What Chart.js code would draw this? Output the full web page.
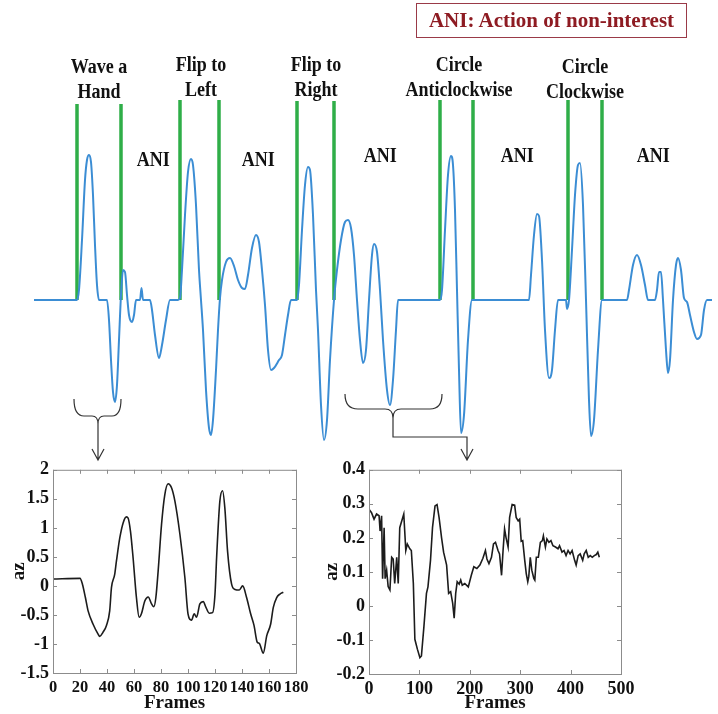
<!DOCTYPE html>
<html>
<head>
<meta charset="utf-8">
<script src="https://cdn.jsdelivr.net/npm/chart.js@4.4.0/dist/chart.umd.min.js"></script>
<style>
  body { margin: 0; background: #fff; }
  #wrap { position: relative; width: 718px; height: 714px; overflow: hidden; font-family: "Liberation Serif", "Times New Roman", serif; }
  canvas { position: absolute; }
  .lbl { position: absolute; font-weight: bold; font-size: 20px; line-height: 25px; text-align: center; color: #111; transform: scaleX(0.9); white-space: nowrap; }
  .ani { position: absolute; font-weight: bold; font-size: 20px; line-height: 20px; color: #111; transform: scaleX(0.9); }
  #legendBox { position: absolute; left: 416px; top: 3px; width: 269px; height: 33px; border: 1.5px solid #9a3a48; color: #8e1b22; font-weight: bold; font-size: 21px; display: flex; align-items: center; justify-content: center; }
  svg { position: absolute; left: 0; top: 0; }
</style>
</head>
<body>
<div id="wrap">
  <canvas id="topChart" width="718" height="460" style="left:0;top:0"></canvas>
  <canvas id="leftChart" width="320" height="259" style="left:0;top:455px"></canvas>
  <canvas id="rightChart" width="320" height="259" style="left:320px;top:455px"></canvas>

  <div id="legendBox">ANI: Action of non-interest</div>

  <div class="lbl" style="left:49px;top:54px;width:100px">Wave a<br>Hand</div>
  <div class="lbl" style="left:151px;top:52px;width:100px">Flip to<br>Left</div>
  <div class="lbl" style="left:266px;top:52px;width:100px">Flip to<br>Right</div>
  <div class="lbl" style="left:399px;top:52px;width:120px">Circle<br>Anticlockwise</div>
  <div class="lbl" style="left:535px;top:54px;width:100px">Circle<br>Clockwise</div>

  <div class="ani" style="left:135px;top:149px">ANI</div>
  <div class="ani" style="left:240px;top:149px">ANI</div>
  <div class="ani" style="left:362px;top:145px">ANI</div>
  <div class="ani" style="left:499px;top:145px">ANI</div>
  <div class="ani" style="left:635px;top:145px">ANI</div>

  <svg width="718" height="714">
    <g fill="none" stroke="#333" stroke-width="1.2">
      <path d="M74,399 Q74,416 84,416 L92,416 Q98,416 98,424 Q98,416 104,416 L112,416 Q121,416 121,399"/>
      <path d="M98,424 L98,460 M92,449 L98,460 L104,449"/>
      <path d="M345,394 Q345,409 358,409 L385,409 Q393,409 393,418 Q393,409 401,409 L430,409 Q442,409 442,394"/>
      <path d="M393,418 L393,437 L467,437 L467,460 M461,449 L467,460 L473,449"/>
    </g>
  </svg>
</div>

<script>
// top signal: sample position and amplitude
const topX = [34, 77, 79, 82, 85, 87, 89, 91, 93, 95, 97, 99, 107, 109, 111, 113, 115, 117, 119, 121,
  123, 125, 127, 129, 132, 134, 136, 140, 141.5, 143, 150, 152, 155, 159, 162, 166, 170, 178, 180, 182,
  185, 188, 191, 193, 196, 199, 201, 203, 206, 209, 211, 213, 216, 218, 220, 222, 226, 230, 234, 238,
  242, 245, 248, 252, 256, 259, 262, 265, 268, 271, 274, 279, 282, 285, 288, 291, 297, 299, 302, 305,
  308, 310, 313, 316, 318, 321, 324, 327, 330, 334, 337, 341, 345, 348, 351, 354, 357, 360, 363, 366,
  369, 372, 374, 377, 380, 383, 387, 390, 393, 396, 398, 440, 442, 445, 448, 451, 453, 455, 457, 459,
  461, 464, 468, 472, 529, 531, 534, 537, 539, 542, 545, 549, 552, 555, 558, 566, 567, 569, 572, 575,
  578, 580, 583, 586, 589, 591, 594, 598, 602, 627, 629, 633, 637, 641, 645, 648, 655, 657, 659, 661,
  663, 666, 668, 670, 673, 676, 678, 681, 684, 687, 690, 694, 697, 701, 704, 707, 712];
const topAmp = [0, 0, 0.10, 0.60, 1.20, 1.40, 1.45, 1.38, 1.05, 0.55, 0.15, 0, 0, -0.20, -0.60, -0.92, -1.02, -0.85, -0.40, 0.05,
  0.30, 0.28, 0.05, -0.15, -0.22, -0.15, 0, 0, 0.12, 0, 0, -0.10, -0.35, -0.58, -0.45, -0.20, 0, 0, 0.02, 0.30,
  0.85, 1.28, 1.41, 1.35, 0.95, 0.30, 0, -0.30, -0.90, -1.28, -1.35, -1.20, -0.70, -0.30, 0.02, 0.20, 0.38, 0.42, 0.34, 0.20,
  0.12, 0.11, 0.25, 0.52, 0.65, 0.58, 0.30, -0.05, -0.50, -0.70, -0.68, -0.60, -0.55, -0.35, -0.15, 0, 0, 0.15, 0.70, 1.15,
  1.33, 1.30, 0.85, 0.10, -0.30, -1.05, -1.40, -1.20, -0.60, 0, 0.30, 0.60, 0.78, 0.80, 0.72, 0.45, 0, -0.40, -0.63, -0.50,
  0, 0.45, 0.56, 0.48, 0.10, -0.40, -0.90, -1.05, -0.80, -0.30, 0, 0, 0.10, 0.70, 1.25, 1.44, 1.35, 0.90, 0.10, -0.70,
  -1.33, -1.15, -0.40, 0, 0, 0.25, 0.65, 0.86, 0.84, 0.40, -0.30, -0.78, -0.70, -0.30, 0, 0, -0.09, 0, 0.50, 1.05,
  1.35, 1.37, 0.95, 0, -1.00, -1.36, -1.20, -0.50, 0, 0, 0.10, 0.35, 0.45, 0.35, 0.15, 0, 0, 0.10, 0.28, 0.28,
  0, -0.50, -0.73, -0.60, 0, 0.35, 0.42, 0.30, 0.02, -0.02, -0.15, -0.32, -0.39, -0.35, -0.10, 0, 0];

// segment boundaries (green markers)
const markerX = [77, 121, 180, 219, 297, 334, 440, 473, 568, 602];
const markerTop = [1.96, 1.96, 2.0, 2.0, 1.99, 1.99, 2.0, 2.0, 2.0, 2.0];

// left inset: "Wave a Hand" segment
const waveFrames = [0, 20, 21.8, 24, 26, 29.7, 33.4, 34.6, 37, 39.6, 42, 43.3, 45.7, 47, 49.5, 52, 54.4, 55.6, 57.4, 59.3,
  61.8, 63.8, 65.5, 68, 70.5, 73, 74.7, 76.2, 77.9, 80.4, 82.8, 85.3, 87.8, 90.3, 94, 97.7, 100, 102.6, 104.6, 106.3,
  108.8, 111.3, 113.3, 115.7, 118.2, 120, 121.2, 123.6, 125.6, 127.3, 129.3, 132.3, 134.8, 138, 140.5, 143.4, 146.4, 148.9, 151.3, 152.8,
  155.8, 158.3, 161.2, 163.2, 165.7, 168.1, 170.6];
const waveAz = [0.12, 0.13, 0.03, -0.2, -0.43, -0.66, -0.83, -0.87, -0.8, -0.68, -0.43, -0.03, 0.2, 0.43, 0.83, 1.09, 1.19, 1.17, 0.94, 0.49,
  -0.2, -0.54, -0.48, -0.26, -0.19, -0.31, -0.36, -0.2, 0.26, 1.06, 1.57, 1.76, 1.69, 1.46, 0.89, 0.14, -0.48, -0.59, -0.48, -0.54,
  -0.31, -0.27, -0.37, -0.47, -0.46, -0.14, 0.49, 1.46, 1.64, 1.34, 0.6, 0.03, -0.06, -0.07, 0.0, -0.2, -0.48, -0.68, -0.97, -0.99,
  -1.16, -0.86, -0.66, -0.37, -0.2, -0.14, -0.11];

// right inset: ANI segment
const aniFrames = [0, 5, 10, 15, 20, 22, 25, 27, 30, 32, 35, 38, 41.5, 45, 48, 51, 55, 58, 61, 67,
  69, 73, 76, 81, 84, 88, 91, 96, 101, 104, 109, 114, 117, 122, 126, 131, 135, 139, 144, 148,
  154, 158, 162, 166, 169, 172, 175, 179, 182, 185, 190, 197, 203, 208, 214, 220, 226, 231, 234, 238,
  243, 247, 251, 256, 259, 263, 266, 269, 272, 276, 279, 284, 289, 292, 296, 299, 302, 305, 309, 312,
  315, 317, 320, 323, 327, 329, 332, 336, 340, 344, 346, 350, 353, 357, 361, 365, 370, 375, 378, 383,
  387, 391, 395, 399, 403, 408, 411, 415, 419, 424, 427, 431, 435, 439, 443, 447, 451, 454, 457];
const aniAz = [0.284, 0.274, 0.255, 0.27, 0.265, 0.22, 0.265, 0.08, 0.23, 0.08, 0.105, 0.057, 0.047, 0.143, 0.138, 0.066, 0.143, 0.066, 0.23, 0.26,
  0.27, 0.163, 0.182, 0.168, 0.163, 0.066, -0.098, -0.127, -0.152, -0.147, -0.06, 0.037, 0.056, 0.134, 0.23, 0.294, 0.298, 0.26, 0.2, 0.158,
  0.12, 0.037, 0.042, 0.008, -0.036, 0.037, 0.071, 0.064, 0.076, 0.061, 0.066, 0.056, 0.09, 0.115, 0.11, 0.12, 0.14, 0.163, 0.138, 0.124,
  0.143, 0.182, 0.187, 0.163, 0.153, 0.09, 0.163, 0.226, 0.2, 0.173, 0.26, 0.298, 0.296, 0.26, 0.25, 0.255, 0.19, 0.192, 0.134, 0.095,
  0.071, 0.086, 0.143, 0.105, 0.081, 0.076, 0.143, 0.143, 0.187, 0.192, 0.206, 0.173, 0.197, 0.187, 0.192, 0.177, 0.173, 0.168, 0.177, 0.158,
  0.163, 0.148, 0.163, 0.153, 0.163, 0.134, 0.12, 0.148, 0.153, 0.134, 0.153, 0.163, 0.143, 0.148, 0.143, 0.148, 0.151, 0.158, 0.143];

const serif = "'Liberation Serif', 'Times New Roman', serif";

// ---- top signal ----
const markerData = [];
markerX.forEach((x, i) => {
  markerData.push({ x, y: 0 }, { x, y: markerTop[i] }, { x, y: null });
});

new Chart(document.getElementById("topChart"), {
  type: "line",
  data: {
    datasets: [
      {
        data: topX.map((x, i) => ({ x, y: topAmp[i] })),
        borderColor: "#3b8dd4",
        borderWidth: 2,
        pointRadius: 0,
        cubicInterpolationMode: "monotone",
      },
      {
        data: markerData,
        borderColor: "#2fae48",
        borderWidth: 3.5,
        pointRadius: 0,
        spanGaps: false,
      },
    ],
  },
  options: {
    responsive: false,
    animation: false,
    layout: { padding: 0 },
    plugins: { legend: { display: false }, tooltip: { enabled: false } },
    scales: {
      x: { type: "linear", display: false, min: 0, max: 718 },
      y: { display: false, min: -1.6, max: 3.0 },
    },
  },
});

// ---- insets ----
const boxPlugin = {
  id: "boxPlugin",
  afterDraw(chart) {
    const { ctx, chartArea: a, scales } = chart;
    ctx.save();
    ctx.strokeStyle = "#8c8c8c";
    ctx.lineWidth = 1;
    ctx.strokeRect(a.left + 0.5, a.top + 0.5, a.right - a.left, a.bottom - a.top);
    ctx.beginPath();
    scales.x.ticks.forEach((t) => {
      const px = Math.round(scales.x.getPixelForValue(t.value)) + 0.5;
      ctx.moveTo(px, a.bottom); ctx.lineTo(px, a.bottom - 4);
      ctx.moveTo(px, a.top); ctx.lineTo(px, a.top + 4);
    });
    scales.y.ticks.forEach((t) => {
      const py = Math.round(scales.y.getPixelForValue(t.value)) + 0.5;
      ctx.moveTo(a.left, py); ctx.lineTo(a.left + 4, py);
      ctx.moveTo(a.right, py); ctx.lineTo(a.right - 4, py);
    });
    ctx.stroke();
    ctx.restore();
  },
};

function renderInset(id, frames, values, opts) {
  return new Chart(document.getElementById(id), {
    type: "line",
    data: {
      datasets: [
        {
          data: frames.map((f, i) => ({ x: f, y: values[i] })),
          borderColor: "#1c1c1c",
          borderWidth: 1.6,
          pointRadius: 0,
          tension: 0,
          cubicInterpolationMode: opts.smooth ? "monotone" : "default",
        },
      ],
    },
    options: {
      responsive: false,
      animation: false,
      layout: { padding: { top: 13, right: opts.padRight, left: 0, bottom: 0 } },
      plugins: { legend: { display: false }, tooltip: { enabled: false } },
      scales: {
        x: {
          type: "linear",
          min: 0,
          max: opts.xMax,
          grid: { display: false, drawTicks: false },
          border: { display: false },
          ticks: {
            stepSize: opts.xStep,
            autoSkip: false,
            color: "#111",
            padding: 5,
            maxRotation: 0,
            font: { family: serif, size: opts.xFont, weight: "bold" },
          },
          title: { display: true, text: "Frames", color: "#111", padding: 0, font: { family: serif, size: 19, weight: "bold" } },
          afterFit: (s) => { s.height = opts.xHeight; },
        },
        y: {
          min: opts.yMin,
          max: opts.yMax,
          grid: { display: false, drawTicks: false },
          border: { display: false },
          ticks: {
            stepSize: opts.yStep,
            autoSkip: false,
            color: "#111",
            padding: 4,
            font: { family: serif, size: 18, weight: "bold" },
            callback: (v) => String(Number(v.toFixed(1))),
          },
          title: { display: true, text: "az", color: "#111", padding: { top: opts.azPad, bottom: 0 }, font: { family: serif, size: 19, weight: "bold" } },
          afterFit: (s) => { s.width = opts.yWidth; },
        },
      },
    },
    plugins: [boxPlugin],
  });
}

renderInset("leftChart", waveFrames, waveAz, {
  xMax: 180, xStep: 20, yMin: -1.5, yMax: 2, yStep: 0.5,
  yWidth: 53, xHeight: 41, padRight: 24, azPad: 8, xFont: 16.5, smooth: true,
});
renderInset("rightChart", aniFrames, aniAz, {
  xMax: 500, xStep: 100, yMin: -0.2, yMax: 0.4, yStep: 0.1,
  yWidth: 49, xHeight: 40, padRight: 19, azPad: 1, xFont: 18, smooth: false,
});
</script>
</body>
</html>
